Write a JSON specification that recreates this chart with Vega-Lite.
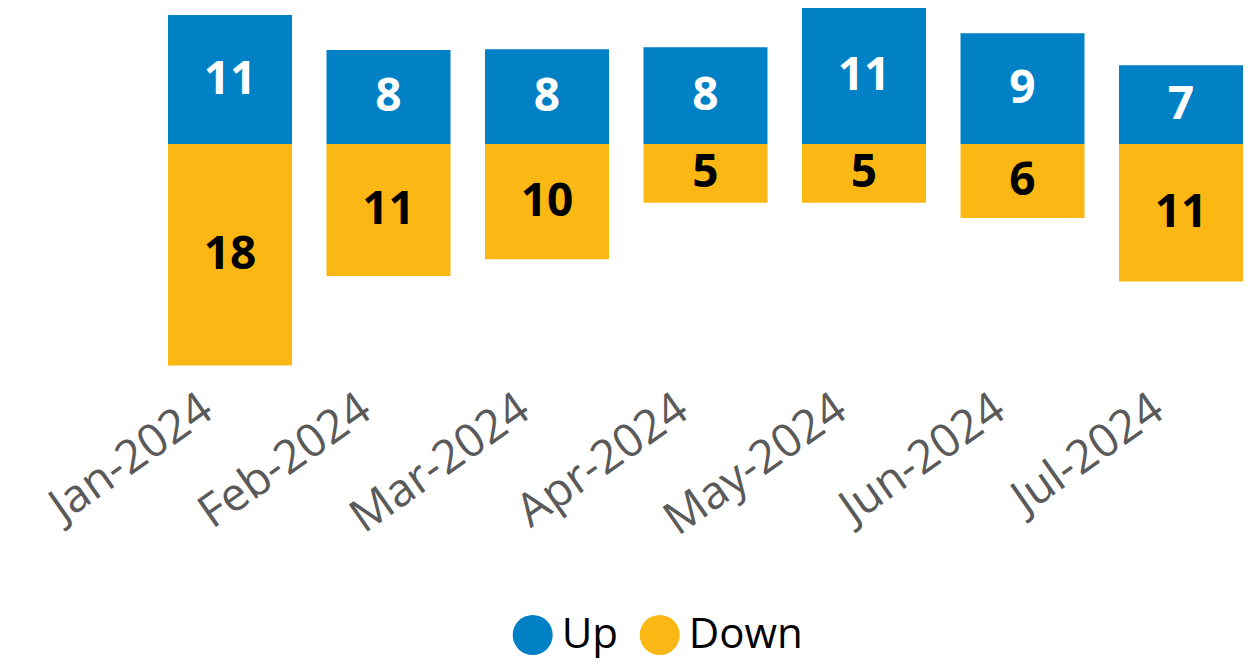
{
  "$schema": "https://vega.github.io/schema/vega-lite/v6.json",
  "width": 1075,
  "height": 372,
  "autosize": {"type": "none"},
  "padding": {"left": 168, "top": 0, "right": 12, "bottom": 293},
  "background": "white",
  "config": {"view": {"stroke": null}, "font": "Open Sans"},
  "data": {
    "values": [
      {"month": "Jan-2024", "series": "Up", "value": 10.75},
      {"month": "Jan-2024", "series": "Down", "value": -18.45},
      {"month": "Feb-2024", "series": "Up", "value": 7.83},
      {"month": "Feb-2024", "series": "Down", "value": -11.0},
      {"month": "Mar-2024", "series": "Up", "value": 7.89},
      {"month": "Mar-2024", "series": "Down", "value": -9.61},
      {"month": "Apr-2024", "series": "Up", "value": 8.06},
      {"month": "Apr-2024", "series": "Down", "value": -4.89},
      {"month": "May-2024", "series": "Up", "value": 11.33},
      {"month": "May-2024", "series": "Down", "value": -4.89},
      {"month": "Jun-2024", "series": "Up", "value": 9.22},
      {"month": "Jun-2024", "series": "Down", "value": -6.17},
      {"month": "Jul-2024", "series": "Up", "value": 6.56},
      {"month": "Jul-2024", "series": "Down", "value": -11.45}
    ]
  },
  "transform": [
    {"calculate": "abs(datum.value)", "as": "label"},
    {"calculate": "datum.value / 2", "as": "mid"}
  ],
  "encoding": {
    "x": {
      "field": "month",
      "type": "ordinal",
      "sort": null,
      "scale": {"paddingInner": 0.2177, "paddingOuter": 0},
      "axis": {
        "title": null,
        "domain": false,
        "ticks": false,
        "grid": false,
        "labelAngle": -35,
        "labelAlign": "right",
        "labelBaseline": "top",
        "labelFont": "Open Sans",
        "labelFontSize": 46,
        "labelColor": "#5a5a5a",
        "labelPadding": 14,
        "labelOffset": -35,
        "labelLimit": 0,
        "labelOverlap": false
      }
    }
  },
  "layer": [
    {
      "mark": {"type": "bar"},
      "encoding": {
        "y": {
          "field": "value",
          "type": "quantitative",
          "stack": null,
          "scale": {"domain": [-19, 12], "nice": false, "zero": true},
          "axis": null
        },
        "color": {
          "field": "series",
          "type": "nominal",
          "scale": {"domain": ["Up", "Down"], "range": ["#0080C5", "#FBB814"]},
          "legend": {
            "title": null,
            "orient": "none",
            "legendX": 343.7,
            "legendY": 614,
            "direction": "horizontal",
            "symbolType": "circle",
            "symbolSize": 1600,
            "symbolStrokeWidth": 0,
            "symbolOpacity": 1,
            "labelFont": "Open Sans",
            "labelFontSize": 42,
            "labelColor": "black",
            "labelOffset": 8,
            "columnPadding": 20,
            "padding": 0
          }
        }
      }
    },
    {
      "mark": {"type": "text", "font": "Open Sans", "fontSize": 46, "fontWeight": "bold", "baseline": "middle", "align": "center"},
      "encoding": {
        "y": {"field": "mid", "type": "quantitative", "stack": null},
        "text": {"field": "label", "type": "quantitative", "format": ".0f"},
        "color": {
          "condition": {"test": "datum.series === 'Up'", "value": "white"},
          "value": "black"
        }
      }
    }
  ]
}
